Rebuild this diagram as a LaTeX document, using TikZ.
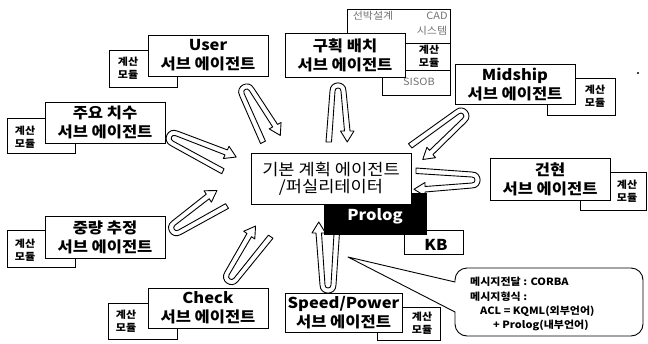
\documentclass[tikz,border=0pt]{standalone}
\usepackage{fontspec}
\setmainfont{Noto Sans CJK KR}[FakeStretch=1.1]
\usetikzlibrary{fit}
\newcommand{\hairpin}[6]{%
 \begin{scope}[shift={(#1,#2)}, rotate=#3, yscale=#6]
 \draw[hp] (#5,-12) -- (8,-8) .. controls (-2.8,-8) and (-2.8,8) .. (8,8)
   -- ({#4-11},12) -- ({#4-11},16) -- (#4,9.25) -- ({#4-11},2.5) -- ({#4-11},6.5)
   -- (8,3) .. controls (3.95,3) and (3.95,-3) .. (8,-3) -- (#5,-6.5) -- cycle;
 \end{scope}}
\tikzset{
 box/.style={draw, fill=white, line width=0.9pt, inner sep=0pt},
 atext/.style={font=\fontsize{15}{19}\selectfont\bfseries, align=center, inner sep=0pt},
 ctext/.style={font=\fontsize{10}{13}\selectfont\bfseries, align=center, inner sep=0pt},
 gtext/.style={font=\fontsize{10}{12}\selectfont, text=black!55, inner sep=0pt},
 hp/.style={draw, fill=white, line width=0.9pt, line join=round},
}
\begin{document}
\begin{tikzpicture}[x=1pt,y=-1pt]
\useasboundingbox (0,0) rectangle (648,343);
\fill[white] (0,0) rectangle (648,343);

% hairpin arrows
\hairpin{243}{85}{-62}{62}{60}{-1}
\hairpin{338}{83}{-90}{59}{59}{-1}
\hairpin{467}{111}{-140.5}{65}{66}{-1}
\hairpin{480}{180}{180}{66}{64}{-1}
\hairpin{167}{135}{-25}{72}{66}{-1}
\hairpin{170}{232}{33}{62}{62}{-1}
\hairpin{227}{283}{55}{63}{63}{-1}
\hairpin{328}{293}{90}{71}{68}{-1}

% User
\node[box, fit={(109,50) (177,87)}] (cu) {};
\node[ctext] (cut) at (128,68) {계산\\모듈};
\node[box, fit={(148,35) (268,76)}] (user) {};
\node[atext] (usert) at (user.center) {User\\서브 에이전트};

% 구획 배치 group
\node[box, fit={(347,9) (450,50)}] (cad) {};
\node[gtext] (cad1) at (373,16) {선박설계};
\node[gtext] (cad2) at (437,16) {CAD};
\node[gtext] (cad3) at (432,31) {시스템};
\node[box, fit={(382,68) (450,95)}] (sisob) {};
\node[gtext] (sisobt) at (419,82) {SISOB};
\node[box, fit={(395,43) (450,70)}] (cg) {};
\node[ctext] (cgt) at (429,56) {계산\\모듈};
\node[box, fit={(285,33) (405,77)}] (gu) {};
\node[atext] (gut) at (gu.center) {구획 배치\\서브 에이전트};

% Midship
\node[box, fit={(547,78) (615,115)}] (cm) {};
\node[ctext] (cmt) at (595,96) {계산\\모듈};
\node[box, fit={(455,64) (575,104)}] (mid) {};
\node[atext] (midt) at (mid.center) {Midship\\서브 에이전트};
\fill (638,73) circle (1.2);

% 주요 치수
\node[box, fit={(7,118) (75,153)}] (cj) {};
\node[ctext] (cjt) at (25,137) {계산\\모듈};
\node[box, fit={(45,102) (165,143)}] (ju) {};
\node[atext] (jut) at (ju.center) {주요 치수\\서브 에이전트};

% 건현
\node[box, fit={(580,172) (646,210)}] (cg2) {};
\node[ctext] (cg2t) at (627,191) {계산\\모듈};
\node[box, fit={(490,158) (610,200)}] (gh) {};
\node[atext] (ght) at (gh.center) {건현\\서브 에이전트};

% 중량 추정
\node[box, fit={(7,230) (75,267)}] (cw) {};
\node[ctext] (cwt) at (25,250) {계산\\모듈};
\node[box, fit={(45,216) (165,258)}] (wu) {};
\node[atext] (wut) at (wu.center) {중량 추정\\서브 에이전트};

% Check
\node[box, fit={(108,303) (177,339)}] (cc) {};
\node[ctext] (cct) at (126,321) {계산\\모듈};
\node[box, fit={(148,288) (268,328)}] (chk) {};
\node[atext] (chkt) at (chk.center) {Check\\서브 에이전트};

% Speed/Power
\node[box, fit={(377,307) (440,340)}] (cs) {};
\node[ctext] (cst) at (422,323) {계산\\모듈};
\node[box, fit={(285,293) (402,332)}] (sp) {};
\node[atext] (spt) at (sp.center) {Speed/Power\\서브 에이전트};

% center
\node[box, fit={(404,230) (463,254)}] (kb) {};
\node[font=\fontsize{15}{18}\selectfont\bfseries, inner sep=0pt] (kbt) at (436,245) {KB};
\node[fill=black, inner sep=0pt, fit={(324,193) (427,235)}] (prolog) {};
\node[font=\fontsize{15}{18}\selectfont\bfseries, text=white, inner sep=0pt] (prologt) at (375,216) {Prolog};
\node[box, fit={(251,153) (411,204)}] (center) {};
\node[font=\fontsize{16}{16}\selectfont, align=center, inner sep=0pt] (centert) at (center.center) {기본 계획 에이전트\\[1pt]/퍼실리테이터};

% callout
\coordinate (ctip) at (348,257);
\draw[line width=0.9pt, fill=white, line join=round] (455,312) -- (ctip) -- (455,282)
  {[rounded corners=12pt] -- (455,268) -- (643,268) -- (643,336) -- (455,336)} -- cycle;
\node[anchor=west, font=\fontsize{10}{12}\selectfont\bfseries, inner sep=0pt] (m1) at (470,282) {메시지전달 : CORBA};
\node[anchor=west, font=\fontsize{10}{12}\selectfont\bfseries, inner sep=0pt] (m2) at (470,297) {메시지형식 :};
\node[anchor=west, font=\fontsize{10}{12}\selectfont\bfseries, inner sep=0pt] (m3) at (480,311) {ACL = KQML(외부언어)};
\node[anchor=west, font=\fontsize{10}{12}\selectfont\bfseries, inner sep=0pt] (m4) at (493,325) {+ Prolog(내부언어)};
\end{tikzpicture}
\end{document}
